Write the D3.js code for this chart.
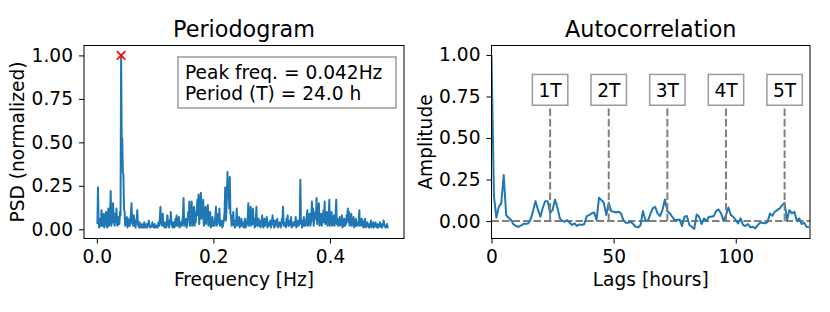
<!DOCTYPE html>
<html>
<head>
<meta charset="utf-8">
<script src="https://cdn.jsdelivr.net/npm/d3@7"></script>
<style>
  body { margin: 0; background: #fff; }
  svg { display: block; font-family: "DejaVu Sans", sans-serif; }
  .axis text { font-size: 18.6px; fill: #000; }
  .axis line { stroke: #000; stroke-width: 1; }
  .frame { fill: none; stroke: #000; stroke-width: 1; }
  .title { font-size: 22.3px; text-anchor: middle; }
  .label { font-size: 18.6px; text-anchor: middle; }
  .series { fill: none; stroke: #1f77b4; stroke-width: 2; stroke-linejoin: round; }
  .ref { stroke: #808080; stroke-width: 2; stroke-dasharray: 7.5 3; }
  .box rect { fill: #fff; stroke: #9a9a9a; stroke-width: 1.5; }
  .box text { font-size: 18.6px; }
</style>
</head>
<body>
<div id="chart"></div>
<script>
// hourly samples, periodogram bins k / nSamples
const nSamples = 1008;

// normalized PSD, bins k = 1 .. 504
const psd = [
  0.03, 0.24, 0.05, 0.01, 0.03, 0.06, 0.02, 0.11, 0.05, 0.02, 0.04, 0.09, 0.01, 0.03, 0.06, 0.10, 0.03, 0.01, 0.07, 0.12,
  0.02, 0.05, 0.10, 0.22, 0.02, 0.06, 0.04, 0.15, 0.08, 0.03, 0.02, 0.09, 0.05, 0.12, 0.03, 0.02, 0.07, 0.04, 0.03, 0.10,
  0.08, 1.00, 0.53, 0.52, 0.33, 0.31, 0.12, 0.10, 0.02, 0.03, 0.05, 0.07, 0.01, 0.02, 0.03, 0.06, 0.02, 0.05, 0.09, 0.15,
  0.04, 0.03, 0.02, 0.08, 0.04, 0.02, 0.01, 0.05, 0.06, 0.11, 0.03, 0.02, 0.01, 0.04, 0.02, 0.01, 0.02, 0.03, 0.01, 0.02,
  0.01, 0.04, 0.02, 0.01, 0.01, 0.03, 0.01, 0.02, 0.03, 0.05, 0.02, 0.01, 0.01, 0.02, 0.02, 0.04, 0.02, 0.01, 0.01, 0.03,
  0.01, 0.02, 0.02, 0.01, 0.01, 0.03, 0.04, 0.02, 0.06, 0.13, 0.05, 0.03, 0.02, 0.09, 0.03, 0.02, 0.01, 0.04, 0.02, 0.01,
  0.03, 0.08, 0.04, 0.02, 0.01, 0.05, 0.04, 0.10, 0.03, 0.02, 0.01, 0.04, 0.02, 0.01, 0.03, 0.06, 0.02, 0.08, 0.04, 0.02,
  0.03, 0.07, 0.01, 0.03, 0.04, 0.02, 0.02, 0.05, 0.08, 0.18, 0.02, 0.04, 0.03, 0.06, 0.01, 0.02, 0.05, 0.10, 0.06, 0.16,
  0.02, 0.05, 0.09, 0.16, 0.02, 0.03, 0.07, 0.13, 0.02, 0.06, 0.04, 0.10, 0.12, 0.17, 0.08, 0.20, 0.03, 0.08, 0.15, 0.21,
  0.06, 0.12, 0.09, 0.17, 0.02, 0.05, 0.08, 0.13, 0.03, 0.09, 0.06, 0.14, 0.02, 0.04, 0.05, 0.10, 0.01, 0.02, 0.03, 0.07,
  0.02, 0.03, 0.02, 0.05, 0.07, 0.13, 0.02, 0.04, 0.03, 0.09, 0.05, 0.12, 0.02, 0.03, 0.04, 0.05, 0.01, 0.02, 0.04, 0.06,
  0.10, 0.24, 0.05, 0.10, 0.20, 0.33, 0.18, 0.25, 0.12, 0.30, 0.09, 0.08, 0.02, 0.03, 0.06, 0.10, 0.02, 0.05, 0.01, 0.04,
  0.05, 0.12, 0.02, 0.03, 0.04, 0.07, 0.01, 0.02, 0.03, 0.06, 0.02, 0.04, 0.02, 0.01, 0.03, 0.06, 0.01, 0.03, 0.02, 0.05,
  0.07, 0.15, 0.02, 0.05, 0.08, 0.13, 0.02, 0.03, 0.05, 0.12, 0.03, 0.06, 0.01, 0.02, 0.07, 0.13, 0.02, 0.04, 0.02, 0.06,
  0.03, 0.02, 0.01, 0.05, 0.04, 0.08, 0.02, 0.01, 0.03, 0.06, 0.02, 0.03, 0.04, 0.07, 0.01, 0.02, 0.02, 0.04, 0.03, 0.05,
  0.01, 0.03, 0.05, 0.08, 0.03, 0.02, 0.01, 0.05, 0.02, 0.03, 0.04, 0.06, 0.01, 0.02, 0.03, 0.04, 0.02, 0.01, 0.03, 0.06,
  0.04, 0.13, 0.02, 0.04, 0.03, 0.02, 0.01, 0.06, 0.05, 0.08, 0.02, 0.03, 0.02, 0.05, 0.04, 0.07, 0.01, 0.02, 0.03, 0.04,
  0.02, 0.03, 0.04, 0.07, 0.01, 0.02, 0.03, 0.05, 0.02, 0.04, 0.06, 0.285, 0.03, 0.05, 0.01, 0.02, 0.04, 0.07, 0.02, 0.03,
  0.02, 0.05, 0.07, 0.11, 0.02, 0.06, 0.04, 0.09, 0.02, 0.03, 0.08, 0.16, 0.05, 0.12, 0.02, 0.05, 0.06, 0.10, 0.07, 0.18,
  0.03, 0.08, 0.06, 0.15, 0.02, 0.04, 0.05, 0.09, 0.02, 0.06, 0.07, 0.11, 0.04, 0.16, 0.03, 0.05, 0.04, 0.10, 0.02, 0.04,
  0.06, 0.17, 0.02, 0.06, 0.04, 0.10, 0.02, 0.03, 0.05, 0.08, 0.02, 0.05, 0.09, 0.17, 0.03, 0.06, 0.02, 0.03, 0.04, 0.07,
  0.02, 0.04, 0.03, 0.08, 0.01, 0.02, 0.04, 0.06, 0.02, 0.05, 0.03, 0.08, 0.06, 0.12, 0.04, 0.10, 0.02, 0.04, 0.05, 0.09,
  0.02, 0.05, 0.03, 0.07, 0.01, 0.02, 0.04, 0.06, 0.02, 0.03, 0.02, 0.04, 0.05, 0.11, 0.02, 0.03, 0.04, 0.06, 0.02, 0.05,
  0.01, 0.02, 0.03, 0.06, 0.01, 0.03, 0.02, 0.04, 0.02, 0.01, 0.01, 0.03, 0.02, 0.05, 0.01, 0.02, 0.03, 0.04, 0.01, 0.03,
  0.02, 0.04, 0.02, 0.01, 0.01, 0.03, 0.01, 0.02, 0.02, 0.04, 0.02, 0.01, 0.01, 0.03, 0.02, 0.05, 0.03, 0.02, 0.01, 0.01,
  0.02, 0.03, 0.01, 0.01,
];

// autocorrelation, lags 0 .. 130 hours
const acf = [
  1.0, 0.15, 0.02, 0.086, 0.106, 0.277, 0.036, 0.02, 0.006, -0.02,
  -0.03, -0.035, -0.028, -0.018, -0.016, -0.014, 0.01, 0.06, 0.12, 0.07,
  0.026, 0.08, 0.12, 0.12, 0.05, 0.066, 0.13, 0.08, 0.016, 0.0,
  -0.004, 0.006, -0.01, -0.024, -0.014, -0.03, -0.02, -0.024, -0.018, 0.03,
  0.036, 0.046, 0.052, 0.006, 0.14, 0.126, 0.11, 0.036, 0.11, 0.06,
  0.056, 0.052, 0.056, 0.046, 0.006, -0.01, -0.01, -0.004, -0.018, -0.034,
  -0.038, -0.026, 0.06, 0.006, 0.0, 0.04, 0.076, 0.086, 0.046, 0.03,
  0.066, 0.13, 0.06, 0.046, 0.026, 0.006, 0.006, 0.01, -0.03, 0.026,
  0.03, -0.024, -0.034, -0.048, 0.04, 0.026, -0.018, 0.016, 0.0, 0.026,
  0.026, 0.03, 0.062, 0.07, 0.046, 0.002, 0.036, 0.082, 0.036, 0.026,
  0.006, -0.014, 0.016, -0.024, -0.03, -0.018, -0.038, -0.034, -0.044, -0.024,
  -0.01, -0.01, -0.014, -0.006, 0.046, 0.032, 0.056, 0.066, 0.076, 0.096,
  0.11, 0.006, 0.066, 0.046, 0.056, 0.002, 0.016, -0.018, -0.01, -0.034,
  -0.038,
];

const periodMultiples = [1, 2, 3, 4, 5];
const yTicks = [0, 0.25, 0.5, 0.75, 1.0];
const freqTicks = [0, 0.2, 0.4];
const lagTicks = [0, 50, 100];

const width = 830;
const height = 312;
const plotTop = 45.5;
const plotBottom = 238.5;

const freqs = psd.map((d, i) => (i + 1) / nSamples);
const peakIndex = d3.maxIndex(psd);
const peakFreq = freqs[peakIndex];
const period = 1 / peakFreq;

const svg = d3
  .select("#chart")
  .append("svg")
  .attr("width", width)
  .attr("height", height);

function drawAxes(g, x, y, xTicks, xFormat, title, xLabel, yLabel) {
  const [x0, x1] = x.range();

  g.append("g")
    .attr("class", "axis")
    .attr("transform", `translate(0,${plotBottom})`)
    .call(
      d3.axisBottom(x).tickValues(xTicks).tickFormat(xFormat).tickSize(5).tickPadding(6)
    )
    .call((a) => a.select(".domain").remove())
    .call((a) => a.attr("font-size", null).attr("font-family", null));

  g.append("g")
    .attr("class", "axis")
    .attr("transform", `translate(${x0},0)`)
    .call(
      d3.axisLeft(y).tickValues(yTicks).tickFormat(d3.format(".2f")).tickSize(5).tickPadding(6)
    )
    .call((a) => a.select(".domain").remove())
    .call((a) => a.attr("font-size", null).attr("font-family", null));

  g.append("rect")
    .attr("class", "frame")
    .attr("x", x0)
    .attr("y", plotTop)
    .attr("width", x1 - x0)
    .attr("height", plotBottom - plotTop);

  g.append("text")
    .attr("class", "title")
    .attr("x", (x0 + x1) / 2)
    .attr("y", 37)
    .text(title);

  g.append("text")
    .attr("class", "label")
    .attr("x", (x0 + x1) / 2)
    .attr("y", 285.5)
    .text(xLabel);

  g.append("text")
    .attr("class", "label")
    .attr("transform", `translate(${x0 - 60},${(plotTop + plotBottom) / 2}) rotate(-90)`)
    .text(yLabel);
}

function clip(g, id, x) {
  const [x0, x1] = x.range();
  g.append("clipPath")
    .attr("id", id)
    .append("rect")
    .attr("x", x0)
    .attr("y", plotTop)
    .attr("width", x1 - x0)
    .attr("height", plotBottom - plotTop);
}

// Periodogram
{
  const x = d3.scaleLinear().domain([-0.022, 0.527]).range([84, 404]);
  const y = d3.scaleLinear().domain([-0.053, 1.057]).range([plotBottom, plotTop]);
  const g = svg.append("g");
  clip(g, "clip-psd", x);

  const line = d3
    .line()
    .x((d, i) => x(freqs[i]))
    .y((d) => y(d));

  g.append("path")
    .attr("class", "series")
    .attr("clip-path", "url(#clip-psd)")
    .attr("d", line(psd));

  const s = 4.3;
  g.append("path")
    .attr("transform", `translate(${x(peakFreq)},${y(psd[peakIndex])})`)
    .attr("d", `M${-s},${-s}L${s},${s}M${-s},${s}L${s},${-s}`)
    .attr("stroke", "#ff0000")
    .attr("stroke-width", 1.7)
    .attr("fill", "none");

  const box = g.append("g").attr("class", "box");
  box.append("rect")
    .attr("x", 178)
    .attr("y", 57)
    .attr("width", 218)
    .attr("height", 51);
  box.append("text")
    .attr("x", 185)
    .attr("y", 78.5)
    .text(`Peak freq. = ${d3.format(".3f")(peakFreq)}Hz`);
  box.append("text")
    .attr("x", 185)
    .attr("y", 100.3)
    .text(`Period (T) = ${d3.format(".1f")(period)} h`);

  drawAxes(g, x, y, freqTicks, d3.format(".1f"), "Periodogram", "Frequency [Hz]", "PSD (normalized)");
}

// Autocorrelation
{
  const x = d3.scaleLinear().domain([0, 130.4]).range([491.5, 810]);
  const y = d3.scaleLinear().domain([-0.105, 1.057]).range([plotBottom, plotTop]);
  const g = svg.append("g");
  clip(g, "clip-acf", x);

  g.append("line")
    .attr("class", "ref")
    .attr("x1", x.range()[0])
    .attr("x2", x.range()[1])
    .attr("y1", y(0))
    .attr("y2", y(0));

  g.append("path")
    .attr("class", "series")
    .attr("clip-path", "url(#clip-acf)")
    .attr("d", d3.line().x((d, i) => x(i)).y((d) => y(d))(acf));

  const marks = g
    .selectAll(".mark")
    .data(periodMultiples)
    .join("g")
    .attr("class", "mark")
    .attr("transform", (d) => `translate(${x(d * period)},0)`);

  marks.append("line")
    .attr("class", "ref")
    .attr("y1", y(0))
    .attr("y2", y(0.75));

  const boxes = marks.append("g").attr("class", "box");
  boxes.append("rect")
    .attr("x", -17.7)
    .attr("y", y(0.79) - 15.4)
    .attr("width", 35.4)
    .attr("height", 30.8);
  boxes.append("text")
    .attr("text-anchor", "middle")
    .attr("y", y(0.79) + 6.8)
    .text((d) => `${d}T`);

  drawAxes(g, x, y, lagTicks, d3.format("d"), "Autocorrelation", "Lags [hours]", "Amplitude");
}
</script>
</body>
</html>
